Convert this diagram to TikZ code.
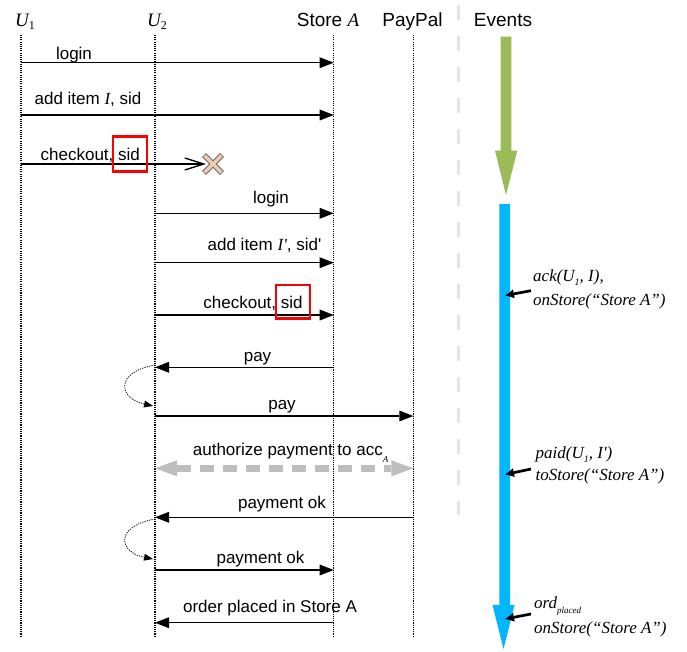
\documentclass[tikz,border=0pt]{standalone}
\usepackage{fontspec}
\setmainfont{Liberation Sans}[Ligatures=TeXOff]
\newfontfamily\serif{Liberation Serif}[Ligatures=TeXOff]
\usetikzlibrary{arrows.meta,calc}
\definecolor{evgreen}{RGB}{155,187,89}
\definecolor{evblue}{RGB}{0,182,255}
\definecolor{sepgray}{RGB}{228,228,228}
\definecolor{authgray}{RGB}{190,190,190}
\definecolor{xfill}{RGB}{234,204,184}
\definecolor{xline}{RGB}{120,100,90}
\begin{document}
\begin{tikzpicture}[x=1pt,y=-1pt,
  lifeline/.style={line width=1.2pt,dash pattern=on 1.1pt off 1.1pt},
  msg/.style={line width=1.35pt,-{Triangle[length=14pt,width=11pt,line width=0pt]}},
  lbl/.style={anchor=base,inner sep=0pt,font=\fontsize{17}{20}\selectfont},
  head/.style={anchor=base,inner sep=0pt,font=\fontsize{19}{22}\selectfont},
  ann/.style={anchor=base west,inner sep=0pt,font=\fontsize{17}{20}\selectfont\serif\itshape},
  annarrow/.style={line width=2.7pt,-{Latex[length=9pt,width=9pt,line width=0pt]}},
  selfloop/.style={line width=0.8pt,dash pattern=on 1.2pt off 1.2pt,-{Triangle[length=9pt,width=7pt,line width=0pt]}},
  redbox/.style={draw=red,line width=2.4pt}
]
\useasboundingbox (0,0) rectangle (687,652);

% headers
\node[head] (hU1) at (25,26.7) {{\serif\itshape U}\raisebox{-3pt}{\fontsize{12}{12}\selectfont\serif 1}};
\node[head] (hU2) at (157,26.7) {{\serif\itshape U}\raisebox{-3pt}{\fontsize{12}{12}\selectfont\serif 2}};
\node[head] (hSA) at (328,26.7) {Store {\serif\itshape A}};
\node[head] (hPP) at (412.5,26.7) {PayPal};
\node[head] (hEv) at (503,26.7) {Events};

% lifelines
\coordinate (u1t) at (21,35);   \coordinate (u1b) at (21,637);
\coordinate (u2t) at (155,35);  \coordinate (u2b) at (155,637);
\coordinate (sat) at (333.7,35);\coordinate (sab) at (333.7,637);
\coordinate (ppt) at (413.3,35);\coordinate (ppb) at (413.3,637);
\draw[lifeline] (u1t) -- (u1b);
\draw[lifeline] (u2t) -- (u2b);
\draw[lifeline] (sat) -- (sab);
\draw[lifeline] (ppt) -- (ppb);

% separator
\coordinate (sept) at (458.3,5); \coordinate (sepb) at (458.3,515);
\draw[sepgray,line width=2.8pt,dash pattern=on 15pt off 16pt] (sept) -- (sepb);

% messages
\draw[msg] (u1t |- 0,62.7) -- (sat |- 0,62.7);
\node[lbl] (m1) at (74,59.5) {login};

\draw[msg] (u1t |- 0,115) -- (sat |- 0,115);
\node[lbl] (m2) at (88,105) {add item {\serif\itshape I}, sid};

\coordinate (xc) at (213,164);
\draw[line width=1.35pt,-{Straight Barb[length=19pt,width=12pt]}] (u1t |- 0,164) -- (206,164);
\node[lbl] (m3) at (90.3,160.7) {checkout, sid};
\draw[redbox] (112.7,136.7) rectangle (146.7,171.7);
\draw[xline,line width=5.4pt] ($(xc)+(-9,-9)$) -- ($(xc)+(9,9)$) ($(xc)+(-9,9)$) -- ($(xc)+(9,-9)$);
\draw[xfill,line width=3.4pt] ($(xc)+(-8.5,-8.5)$) -- ($(xc)+(8.5,8.5)$) ($(xc)+(-8.5,8.5)$) -- ($(xc)+(8.5,-8.5)$);

\draw[msg] (u2t |- 0,213.3) -- (sat |- 0,213.3);
\node[lbl] (m4) at (271,204) {login};

\draw[msg] (u2t |- 0,262.7) -- (sat |- 0,262.7);
\node[lbl] (m5) at (264.5,250.7) {add item {\serif\itshape I'}, sid'};

\draw[msg] (u2t |- 0,315) -- (sat |- 0,315);
\node[lbl] (m6) at (253,308.3) {checkout, sid};
\draw[redbox] (275.7,285) rectangle (310,318.3);

\draw[msg] (sat |- 0,367.3) -- (u2t |- 0,367.3);
\node[lbl] (m7) at (257.5,361) {pay};

\coordinate (lp1e) at (153,406);
\draw[selfloop] (u2t |- 0,365) .. controls (115,372) and (118,398) .. (lp1e);

\draw[msg] (u2t |- 0,416) -- (ppt |- 0,416);
\node[lbl] (m8) at (282,409.3) {pay};

\draw[authgray,line width=6.5pt,dash pattern=on 14pt off 9pt,
  {Triangle[length=22pt,width=16pt,line width=0pt]}-{Triangle[length=22pt,width=16pt,line width=0pt]}]
  (u2t |- 0,468.3) -- (ppt |- 0,468.3);
\node[lbl,anchor=base west] (m9) at (192.7,455) {authorize payment to acc\raisebox{-7.5pt}{\fontsize{9}{9}\selectfont\serif\itshape A}};

\draw[msg] (ppt |- 0,517.3) -- (u2t |- 0,517.3);
\node[lbl] (m10) at (282,508.3) {payment ok};

\coordinate (lp2e) at (153,559);
\draw[selfloop] (u2t |- 0,519) .. controls (115,526) and (118,552) .. (lp2e);

\draw[msg] (u2t |- 0,570) -- (sat |- 0,570);
\node[lbl] (m11) at (260.5,563.3) {payment ok};

\draw[msg] (sat |- 0,622.7) -- (u2t |- 0,622.7);
\node[lbl] (m12) at (270,612.7) {order placed in Store A};

% event arrows
\fill[evgreen] (500.7,36.7) -- (511.3,36.7) -- (511.3,150.7) -- (517.3,150.7) -- (506,195) -- (495,150.7) -- (500.7,150.7) -- cycle;
\fill[evblue] (499.3,204) -- (510,204) -- (510,605) -- (514.5,605) -- (503.5,649) -- (492.5,605) -- (499.3,605) -- cycle;

% annotations
\node[ann] (a1a) at (533,281) {ack(U\raisebox{-4pt}{\fontsize{10}{10}\selectfont 1}, I),};
\node[ann] (a1b) at (533,305) {onStore(“Store A”)};
\coordinate (a1s) at (531,290.7); \coordinate (a1e) at (505,295.5);
\draw[annarrow] (a1s) -- (a1e);

\node[ann] (a2a) at (535.5,458.3) {paid(U\raisebox{-4pt}{\fontsize{10}{10}\selectfont 1}, I')};
\node[ann] (a2b) at (535.5,480.7) {toStore(“Store A”)};
\coordinate (a2s) at (531,469); \coordinate (a2e) at (505,474.5);
\draw[annarrow] (a2s) -- (a2e);

\node[ann] (a3a) at (534,608.3) {ord\raisebox{-5pt}{\fontsize{9}{9}\selectfont placed}};
\node[ann] (a3b) at (534,633.3) {onStore(“Store A”)};
\coordinate (a3s) at (531,614); \coordinate (a3e) at (505,619);
\draw[annarrow] (a3s) -- (a3e);
\end{tikzpicture}
\end{document}
